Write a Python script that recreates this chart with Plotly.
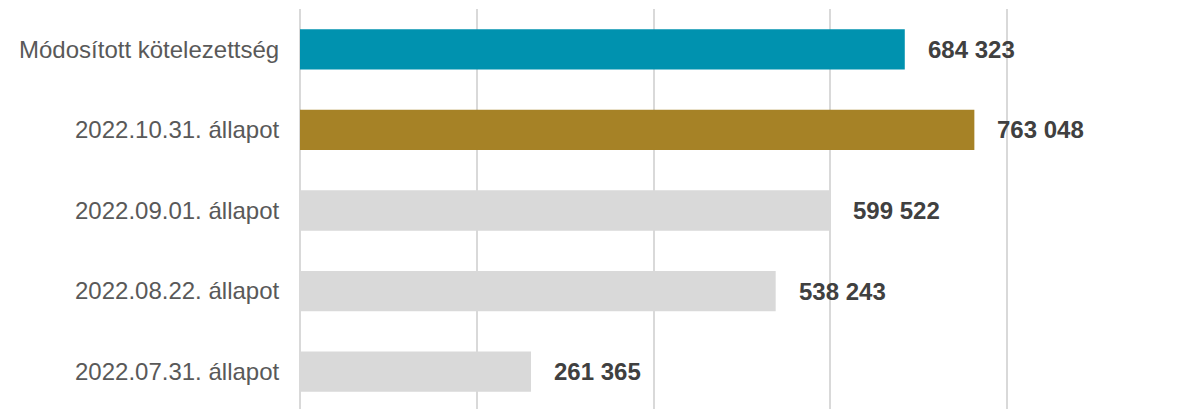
import plotly.graph_objects as go

categories = [
    "2022.07.31. állapot",
    "2022.08.22. állapot",
    "2022.09.01. állapot",
    "2022.10.31. állapot",
    "Módosított kötelezettség",
]
values = [261365, 538243, 599522, 763048, 684323]
bar_colors = ["#D9D9D9", "#D9D9D9", "#D9D9D9", "#A68226", "#0092AF"]
x_ticks = [0, 200000, 400000, 600000, 800000]

fig = go.Figure()
fig.add_trace(go.Bar(
    x=values,
    y=categories,
    orientation="h",
    marker=dict(color=bar_colors, line=dict(width=0)),
    hoverinfo="skip",
))

for v, c in zip(values, categories):
    fig.add_annotation(
        x=v, y=c, xref="x", yref="y",
        text=f"{v:,}".replace(",", " "),
        showarrow=False, xanchor="left", yanchor="middle",
        xshift=21,
        font=dict(family="Liberation Sans, Arial, sans-serif", size=24, color="#404040", weight="bold"),
    )

fig.update_layout(
    width=1174, height=401,
    margin=dict(l=292, r=0, t=1, b=0),
    paper_bgcolor="white",
    plot_bgcolor="white",
    bargap=0.5,
    showlegend=False,
    font=dict(family="Liberation Sans, Arial, sans-serif", size=24, color="#595959"),
)
fig.update_xaxes(
    range=[0, 998000],
    tickvals=x_ticks,
    showticklabels=False,
    showgrid=True, gridcolor="#D9D9D9", gridwidth=2,
    zeroline=True, zerolinecolor="#D9D9D9", zerolinewidth=2,
    showline=False,
)
fig.update_yaxes(
    range=[-0.463, 4.5],
    categoryorder="array", categoryarray=categories,
    showgrid=False, zeroline=False, showline=False,
    ticks="outside", ticklen=15, tickcolor="rgba(0,0,0,0)",
    tickfont=dict(family="Liberation Sans, Arial, sans-serif", size=24, color="#595959"),
)

fig.write_html("out.html")
